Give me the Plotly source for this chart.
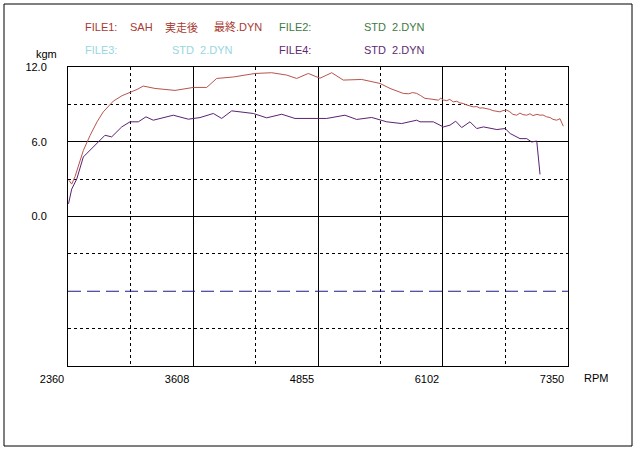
import plotly.graph_objects as go

# ---- data ----
rpm1 = [2370, 2397, 2430, 2470, 2513, 2580, 2650, 2712, 2812, 2900,
        2979, 3050, 3111, 3228, 3428, 3611, 3744, 3844, 4010, 4226,
        4393, 4543, 4642, 4758, 4875, 4992, 5107, 5291, 5474, 5574,
        5706, 5760, 5800, 5840, 5880, 5923, 5960, 6000, 6056, 6080,
        6106, 6140, 6170, 6205, 6240, 6270, 6305, 6340, 6370, 6405,
        6440, 6470, 6500, 6539, 6570, 6600, 6640, 6671, 6700, 6738,
        6770, 6800, 6838, 6870, 6900, 6938, 6970, 7000, 7040, 7071,
        7100, 7137, 7170, 7200, 7237, 7270, 7303]
kgm1 = [2.9, 2.6, 3.2, 4.3, 5.3, 6.5, 7.6, 8.4, 9.26, 9.7,
        9.96, 10.2, 10.47, 10.28, 10.12, 10.36, 10.36, 11.08, 11.2, 11.48,
        11.54, 11.35, 11.08, 11.48, 11.1, 11.54, 10.95, 11.0, 10.68, 10.28,
        9.88, 9.85, 9.95, 9.88, 9.7, 9.48, 9.45, 9.38, 9.34, 9.5,
        9.35, 9.3, 9.4, 9.2, 9.25, 9.12, 9.07, 8.95, 8.9, 8.8,
        8.82, 8.7, 8.72, 8.67, 8.6, 8.5, 8.45, 8.4, 8.5, 8.54,
        8.4, 8.2, 8.13, 8.3, 8.18, 8.13, 8.25, 8.1, 8.2, 8.13,
        8.15, 8.0, 7.95, 7.8, 7.73, 7.85, 7.25]

rpm4 = [2365, 2397, 2447, 2513, 2729, 2796, 2896, 2979, 3062, 3138,
        3211, 3411, 3561, 3677, 3810, 3894, 3994, 4094, 4209, 4343,
        4493, 4625, 4858, 4942, 5124, 5241, 5391, 5541, 5690, 5840,
        5873, 6006, 6106, 6172, 6229, 6289, 6372, 6439, 6507, 6640,
        6723, 6773, 6871, 6938, 6988, 7038, 7071]
kgm4 = [1.02, 2.2, 3.0, 4.78, 6.52, 6.39, 7.19, 7.6, 7.6, 8.0,
        7.73, 8.13, 7.81, 7.94, 8.27, 7.87, 8.48, 8.4, 8.27, 7.92,
        8.21, 7.87, 7.87, 7.87, 8.13, 7.79, 7.95, 7.6, 7.46, 7.73,
        7.6, 7.6, 7.19, 7.33, 7.65, 7.14, 7.6, 7.06, 7.19, 6.98,
        7.06, 6.66, 6.25, 6.25, 5.98, 6.06, 3.38]

rpm_ref = [2360, 7350]
kgm_ref = [-6, -6]

x_ticks = [2360, 3608, 4855, 6102, 7350]
x_tick_text = ["2360", "3608", "4855", "6102", "7350"]
x_minor = [2984, 4231.5, 5478.5, 6726]
y_ticks = [-12, 0, 6, 12]
y_tick_text = ["", "0.0", "6.0", "12.0"]
y_minor = [-9, -3, 3, 9]

FONT = "Liberation Sans, Arial, Noto Sans CJK JP"
C_RED_TXT = "#a83a32"
C_RED_LINE = "#b8544c"
C_GREEN = "#3f7a3f"
C_CYAN = "#98d6e0"
C_PURPLE = "#5e2a72"
C_PURPLE_LINE = "#5a2270"
C_NAVY = "#1c1c86"

fig = go.Figure()
fig.add_trace(go.Scatter(x=rpm_ref, y=kgm_ref, mode="lines",
                         line=dict(color=C_NAVY, width=1, dash="13px,6px"),
                         hoverinfo="skip"))
fig.add_trace(go.Scatter(x=rpm1, y=kgm1, mode="lines",
                         line=dict(color=C_RED_LINE, width=1)))
fig.add_trace(go.Scatter(x=rpm4, y=kgm4, mode="lines",
                         line=dict(color=C_PURPLE_LINE, width=1)))

W, H = 638, 453
L, R, T, B = 68, 70, 67, 87
pw, ph = W - L - R, H - T - B


def px(xp):
    return (xp - L) / pw


def py(yp):
    return (H - B - yp) / ph


ann = []


def txt(s, xp, yp, color, anchor="left", size=11):
    ann.append(dict(text=s, x=px(xp), y=py(yp), xref="paper", yref="paper",
                    xanchor=anchor, yanchor="middle", showarrow=False,
                    font=dict(family=FONT, size=size, color=color)))


txt("FILE1:", 83, 27, C_RED_TXT)
txt("SAH", 128, 27, C_RED_TXT)
txt("実走後", 163, 27, C_RED_TXT)
txt("最終.DYN", 212, 27, C_RED_TXT)
txt("FILE2:", 277, 27, C_GREEN)
txt("STD  2.DYN", 362, 27, C_GREEN)
txt("FILE3:", 83, 50, C_CYAN)
txt("STD  2.DYN", 170, 50, C_CYAN)
txt("FILE4:", 277, 50, C_PURPLE)
txt("STD  2.DYN", 362, 50, C_PURPLE)
txt("kgm", 46, 54, "black", anchor="center")
txt("RPM", 596, 378, "black", anchor="center")

fig.update_layout(
    width=W, height=H,
    margin=dict(l=L, r=R, t=T, b=B, pad=0),
    paper_bgcolor="white", plot_bgcolor="white",
    showlegend=False,
    annotations=ann,
    shapes=[dict(type="rect", xref="paper", yref="paper",
                 x0=px(4), x1=px(632), y0=py(446), y1=py(4),
                 line=dict(color="black", width=1), fillcolor="rgba(0,0,0,0)",
                 layer="below")],
    font=dict(family=FONT, size=11, color="black"),
)
fig.update_xaxes(range=[2360, 7350], tickmode="array", tickvals=x_ticks,
                 ticktext=x_tick_text, ticks="", showgrid=True,
                 gridcolor="black", gridwidth=1, zeroline=False,
                 showline=True, linecolor="black", linewidth=1, mirror=True,
                 ticklabelshift=-16, ticklabelstandoff=3,
                 tickfont=dict(family=FONT, size=11, color="black"),
                 minor=dict(tickmode="array", tickvals=x_minor, showgrid=True,
                            gridcolor="black", gridwidth=1, griddash="3px,3px",
                            ticks=""))
fig.update_yaxes(range=[-12, 12], tickmode="array", tickvals=y_ticks,
                 ticktext=y_tick_text, ticks="", showgrid=True,
                 gridcolor="black", gridwidth=1, zeroline=False,
                 showline=True, linecolor="black", linewidth=1, mirror=True,
                 ticklabelstandoff=18,
                 tickfont=dict(family=FONT, size=11, color="black"),
                 minor=dict(tickmode="array", tickvals=y_minor, showgrid=True,
                            gridcolor="black", gridwidth=1, griddash="3px,3px",
                            ticks=""))

fig.write_html("out.html",
               config={"displayModeBar": False},
               post_script="document.body.style.margin='0';"
                           "document.body.style.overflow='hidden';")
